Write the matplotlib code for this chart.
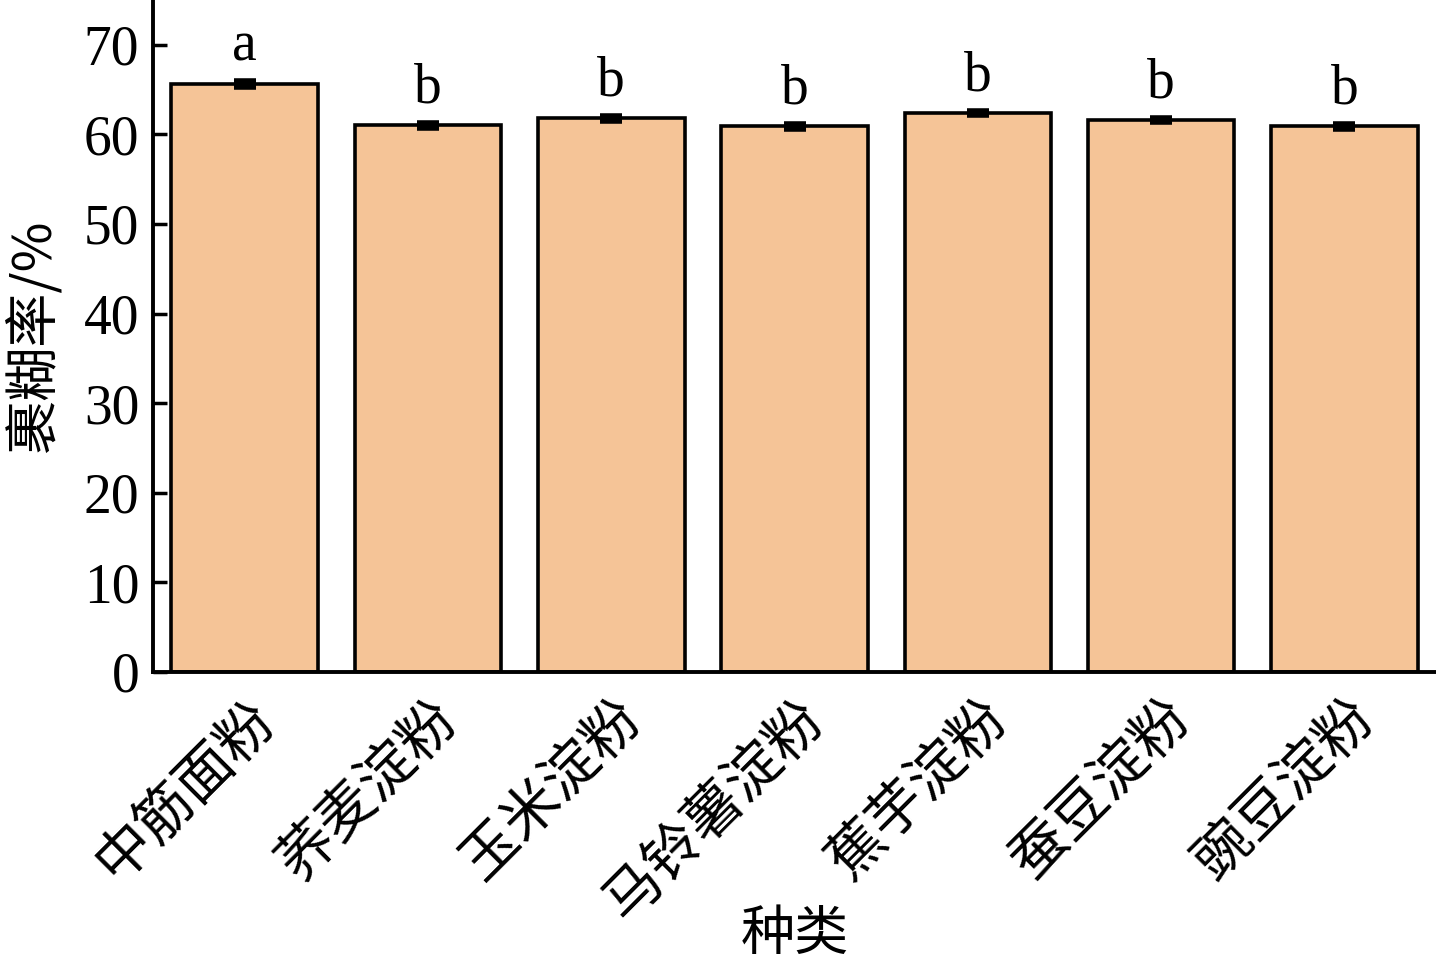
import matplotlib
matplotlib.use('Agg')
import matplotlib.pyplot as plt
import numpy as np

categories = ['中筋面粉', '荞麦淀粉', '玉米淀粉', '马铃薯淀粉', '蕉芋淀粉', '蚕豆淀粉', '豌豆淀粉']
values = [65.6, 61.0, 61.8, 60.9, 62.4, 61.6, 60.9]
errors = [0.35, 0.3, 0.3, 0.3, 0.25, 0.25, 0.25]
letters = ['a', 'b', 'b', 'b', 'b', 'b', 'b']

cjk = ['Noto Sans CJK SC', 'DejaVu Sans']
serif = ['Liberation Serif', 'DejaVu Serif']

fig = plt.figure(figsize=(14.36, 9.68), dpi=100)
ax = fig.add_axes([0.1066, 0.306, 0.8934, 0.694])

x = np.arange(len(categories))
ax.bar(x, values, width=0.8, color='#F5C497', edgecolor='black', linewidth=2.6, zorder=2)
ax.errorbar(x, values, yerr=errors, fmt='none', ecolor='black', elinewidth=2.5,
            capsize=8, capthick=4, zorder=3)

for xi, v, e, lab in zip(x, values, errors, letters):
    ax.annotate(lab, (xi, v + e), xytext=(0, 6), textcoords='offset points',
                ha='center', va='bottom', fontsize=40, family=serif)

ax.set_xlim(-0.5, 6.5)
ax.set_ylim(0, 75)
ax.set_yticks(range(0, 71, 10))
ax.set_xticks(x)
ax.set_xticklabels(categories, rotation=45, ha='right', va='top', rotation_mode='anchor',
                   fontsize=41, family=cjk)
for t in ax.get_yticklabels():
    t.set_fontsize(40)
    t.set_family(serif)

ax.tick_params(direction='in', length=10, width=2.5, pad=10)
ax.tick_params(axis='x', pad=12)
for s in ['top', 'right']:
    ax.spines[s].set_visible(False)
for s in ['left', 'bottom']:
    ax.spines[s].set_linewidth(2.8)

ax.set_ylabel('裹糊率/%', fontsize=39, family=cjk, labelpad=16)
ax.set_xlabel('种类', fontsize=39, family=cjk)
ax.xaxis.set_label_coords(0.5, -0.35)

fig.savefig('out.png', dpi=100)
